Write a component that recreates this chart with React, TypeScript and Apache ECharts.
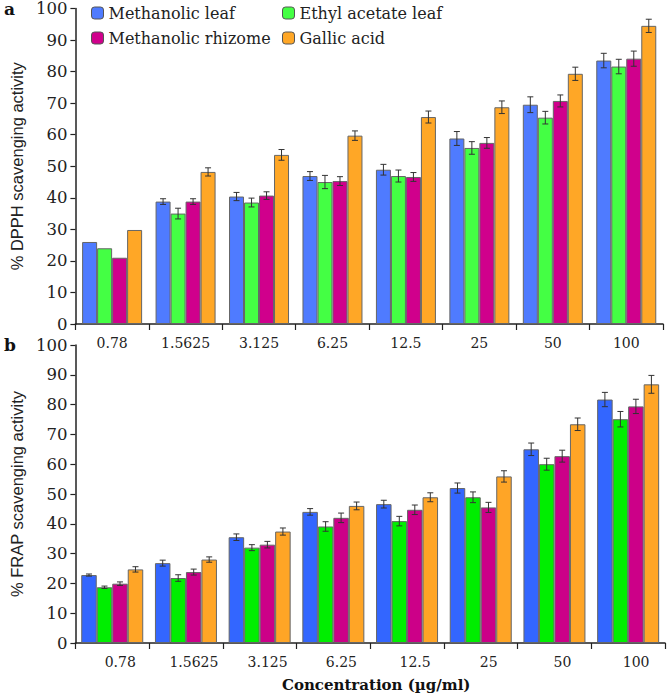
import React, { useEffect, useRef } from "react";
import * as echarts from "echarts";

const categories = ["0.78", "1.5625", "3.125", "6.25", "12.5", "25", "50", "100"];
const seriesNames = ["Methanolic leaf", "Ethyl acetate leaf", "Methanolic rhizome", "Gallic acid"];

// Panel a: DPPH
const dpphLeaf = [26, 38.8, 40.4, 46.9, 48.9, 58.8, 69.5, 83.5];
const dpphEthyl = [24, 35.0, 38.5, 45.0, 46.9, 55.8, 65.4, 81.6];
const dpphRhizome = [21, 38.8, 40.7, 45.3, 46.6, 57.4, 70.7, 84.1];
const dpphGallic = [29.8, 48.2, 53.6, 59.7, 65.6, 68.7, 79.3, 94.5];
const dpphLeafErr = [0, 0.9, 1.3, 1.4, 1.7, 2.2, 2.5, 2.3];
const dpphEthylErr = [0, 1.7, 1.4, 2.1, 1.9, 2.0, 2.0, 2.3];
const dpphRhizomeErr = [0, 0.9, 1.2, 1.4, 1.4, 1.7, 1.9, 2.4];
const dpphGallicErr = [0, 1.3, 1.7, 1.5, 1.9, 2.0, 2.1, 2.1];

// Panel b: FRAP
const frapLeaf = [22.8, 26.8, 35.5, 44.0, 46.6, 52.0, 65.0, 81.7];
const frapEthyl = [18.7, 21.8, 32.0, 39.1, 40.9, 48.9, 60.0, 75.1];
const frapRhizome = [19.9, 23.8, 33.0, 42.0, 44.7, 45.5, 62.7, 79.4];
const frapGallic = [24.7, 28.0, 37.4, 46.0, 48.9, 55.9, 73.4, 86.8];
const frapLeafErr = [0.35, 1.0, 1.1, 1.1, 1.3, 1.7, 2.1, 2.4];
const frapEthylErr = [0.4, 1.1, 1.0, 1.6, 1.6, 1.8, 2.0, 2.6];
const frapRhizomeErr = [0.6, 1.0, 1.1, 1.6, 1.6, 1.7, 2.0, 2.4];
const frapGallicErr = [0.9, 0.9, 1.2, 1.3, 1.5, 1.9, 2.1, 3.0];

const yTicks = [0, 10, 20, 30, 40, 50, 60, 70, 80, 90, 100];

const colorsA = ["#4f7bff", "#44ff44", "#d0008c", "#ffa726"];
const colorsB = ["#3366ff", "#00ee00", "#cc0088", "#ffa526"];

const serif = "DejaVu Serif";
const sans = "Liberation Sans";

export default function App() {
  const ref = useRef<HTMLDivElement>(null);
  useEffect(() => {
    if (!ref.current) return;
    const chart = echarts.init(ref.current, undefined, { renderer: "svg" });

    const valsA = [dpphLeaf, dpphEthyl, dpphRhizome, dpphGallic];
    const errsA = [dpphLeafErr, dpphEthylErr, dpphRhizomeErr, dpphGallicErr];
    const valsB = [frapLeaf, frapEthyl, frapRhizome, frapGallic];
    const errsB = [frapLeafErr, frapEthylErr, frapRhizomeErr, frapGallicErr];

    const barW = [15, 15.5];
    const series: any[] = [];
    const build = (vals: number[][], errs: number[][], colors: string[], gi: number) => {
      vals.forEach((v, si) => {
        series.push({
          type: "bar",
          name: seriesNames[si],
          xAxisIndex: gi,
          yAxisIndex: gi,
          data: v,
          barWidth: barW[gi],
          barGap: "0%",
          itemStyle: { color: colors[si], borderColor: "#666", borderWidth: 1 },
          z: 2,
        });
      });
      vals.forEach((v, si) => {
        const data = v
          .map((val, ci) => [ci, val - errs[si][ci], val + errs[si][ci]])
          .filter((d, ci) => errs[si][ci] > 0);
        series.push({
          type: "custom",
          name: "err" + gi + "_" + si,
          xAxisIndex: gi,
          yAxisIndex: gi,
          data,
          z: 5,
          silent: true,
          renderItem: (params: any, api: any) => {
            const ci = api.value(0);
            const lo = api.coord([ci, api.value(1)]);
            const hi = api.coord([ci, api.value(2)]);
            const x = lo[0] + (si - 1.5) * barW[gi];
            const cap = 3;
            const st = { stroke: "#333", lineWidth: 1 };
            return {
              type: "group",
              children: [
                { type: "line", shape: { x1: x, y1: lo[1], x2: x, y2: hi[1] }, style: st },
                { type: "line", shape: { x1: x - cap, y1: lo[1], x2: x + cap, y2: lo[1] }, style: st },
                { type: "line", shape: { x1: x - cap, y1: hi[1], x2: x + cap, y2: hi[1] }, style: st },
              ],
            };
          },
        });
      });
    };
    build(valsA, errsA, colorsA, 0);
    build(valsB, errsB, colorsB, 1);

    const xAxisBase = (gi: number) => ({
      type: "category",
      gridIndex: gi,
      data: categories,
      axisLine: { lineStyle: { color: "#222", width: 1.5 } },
      axisTick: { show: true, length: 6, lineStyle: { color: "#222", width: 1.2 } },
      axisLabel: {
        fontFamily: serif,
        fontSize: 14,
        color: "#222",
        margin: 12,
        ...(gi === 1 ? { padding: [0, 0, 0, 16] } : {}),
      },
      splitLine: { show: false },
    });
    const yAxisBase = (gi: number, name: string) => ({
      type: "value",
      gridIndex: gi,
      min: 0,
      max: 100,
      interval: 10,
      name,
      nameLocation: "middle",
      nameGap: 47,
      nameTextStyle: { fontFamily: sans, fontSize: 16.5, color: "#222" },
      axisLine: { show: true, lineStyle: { color: "#222", width: 1.5 } },
      axisTick: { show: true, length: 5, lineStyle: { color: "#222", width: 1.2 } },
      axisLabel: {
        fontFamily: serif,
        fontSize: 16.5,
        color: "#222",
        margin: 8,
        formatter: (v: number) => (yTicks.includes(v) ? String(v) : ""),
      },
      splitLine: { show: false },
    });

    const legendCommon = {
      orient: "vertical",
      top: 5,
      itemWidth: 12,
      itemHeight: 12,
      itemGap: 9,
      padding: 0,
      textStyle: { fontFamily: serif, fontSize: 16, color: "#222" },
      itemStyle: { borderColor: "#555", borderWidth: 1 },
    };

    chart.setOption({
      animation: false,
      backgroundColor: "#fff",
      grid: [
        { left: 68, right: 5, top: 8, height: 316 },
        { left: 70, right: 3, top: 345, height: 298 },
      ],
      legend: [
        { ...legendCommon, data: [seriesNames[0], seriesNames[2]], left: 91 },
        { ...legendCommon, data: [seriesNames[1], seriesNames[3]], left: 282 },
      ],
      xAxis: [
        xAxisBase(0),
        {
          ...xAxisBase(1),
          name: "Concentration (µg/ml)",
          nameLocation: "middle",
          nameGap: 34,
          nameTextStyle: { fontFamily: serif, fontSize: 15, fontWeight: "bold", color: "#111", padding: [0, 0, 0, 12] },
        },
      ],
      yAxis: [yAxisBase(0, "% DPPH scavenging activity"), yAxisBase(1, "% FRAP scavenging activity")],
      graphic: [
        { type: "text", left: 4, top: 0, style: { text: "a", fontFamily: serif, fontSize: 17, fontWeight: "bold", fill: "#111" } },
        { type: "text", left: 4, top: 336, style: { text: "b", fontFamily: serif, fontSize: 17, fontWeight: "bold", fill: "#111" } },
      ],
      series,
    });
    return () => chart.dispose();
  }, []);
  return (
    <div
      ref={ref}
      style={{ position: "fixed", left: 0, top: 0, width: 668, height: 695, background: "#fff" }}
    />
  );
}
